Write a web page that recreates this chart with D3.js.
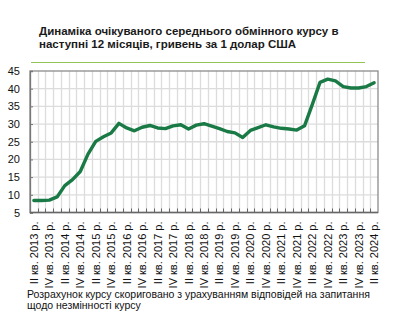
<!DOCTYPE html>
<html>
<head>
<meta charset="utf-8">
<script src="https://cdn.jsdelivr.net/npm/d3@7"></script>
<style>
  html, body { margin: 0; padding: 0; background: #fff; }
  svg { display: block; font-family: "Liberation Sans", Arial, sans-serif; }
</style>
</head>
<body>
<script>
const titleLines = ["Динаміка очікуваного середнього обмінного курсу в", "наступні 12 місяців, гривень за 1 долар США"];
const noteLines = ["Розрахунок курсу скориговано з урахуванням відповідей на запитання", "щодо незмінності курсу"];

const categories = [
  "II кв. 2013 р.", "III кв. 2013 р.", "IV кв. 2013 р.",
  "I кв. 2014 р.", "II кв. 2014 р.", "III кв. 2014 р.", "IV кв. 2014 р.",
  "I кв. 2015 р.", "II кв. 2015 р.", "III кв. 2015 р.", "IV кв. 2015 р.",
  "I кв. 2016 р.", "II кв. 2016 р.", "III кв. 2016 р.", "IV кв. 2016 р.",
  "I кв. 2017 р.", "II кв. 2017 р.", "III кв. 2017 р.", "IV кв. 2017 р.",
  "I кв. 2018 р.", "II кв. 2018 р.", "III кв. 2018 р.", "IV кв. 2018 р.",
  "I кв. 2019 р.", "II кв. 2019 р.", "III кв. 2019 р.", "IV кв. 2019 р.",
  "I кв. 2020 р.", "II кв. 2020 р.", "III кв. 2020 р.", "IV кв. 2020 р.",
  "I кв. 2021 р.", "II кв. 2021 р.", "III кв. 2021 р.", "IV кв. 2021 р.",
  "I кв. 2022 р.", "II кв. 2022 р.", "III кв. 2022 р.", "IV кв. 2022 р.",
  "I кв. 2023 р.", "II кв. 2023 р.", "III кв. 2023 р.", "IV кв. 2023 р.",
  "I кв. 2024 р.", "II кв. 2024 р."
];
const values = [
  8.4, 8.4, 8.5, 9.4, 12.6, 14.3, 16.6, 21.5, 25.1, 26.4, 27.5, 30.2,
  28.9, 28.1, 29.1, 29.6, 28.9, 28.7, 29.5, 29.8, 28.6, 29.7, 30.1,
  29.4, 28.7, 27.9, 27.5, 26.2, 28.2, 29.0, 29.8, 29.2, 28.8, 28.6, 28.3,
  29.5, 35.5, 41.8, 42.7, 42.2, 40.6, 40.2, 40.2, 40.6, 41.7
];
const yTicks = [5, 10, 15, 20, 25, 30, 35, 40, 45];
const xTickLabels = categories.filter((d, i) => i % 2 === 0);

const W = 398, H = 326;
const plot = { left: 30, right: 378, top: 71, bottom: 212.5 };

const svg = d3.select("body").append("svg").attr("width", W).attr("height", H);

// Title
svg.append("g").selectAll("text").data(titleLines).join("text")
  .attr("x", 39).attr("y", (d, i) => 35 + i * 13)
  .attr("font-size", "11.5px").attr("font-weight", "bold").attr("fill", "#1a1a1a")
  .text(d => d);

svg.append("line").attr("x1", 31).attr("x2", 365).attr("y1", 62.5).attr("y2", 62.5)
  .attr("stroke", "#92c456").attr("stroke-width", 1);

const x = d3.scaleBand().domain(categories).range([plot.left, plot.right]).paddingInner(0).paddingOuter(0);
const y = d3.scaleLinear().domain([5, 45]).range([plot.bottom, plot.top]);

// Grid
const grid = svg.append("g");
grid.selectAll("line.v").data(categories.slice(1)).join("line")
  .attr("class", "v")
  .attr("x1", d => Math.round(x(d)) + 0.5).attr("x2", d => Math.round(x(d)) + 0.5)
  .attr("y1", plot.top).attr("y2", plot.bottom)
  .attr("stroke", "#dcdcdc").attr("stroke-width", 1.3);
grid.selectAll("line.h").data(yTicks.slice(1, -1)).join("line")
  .attr("class", "h")
  .attr("x1", plot.left).attr("x2", plot.right)
  .attr("y1", d => y(d)).attr("y2", d => y(d))
  .attr("stroke", "#dcdcdc").attr("stroke-width", 1.3);

// Frame
svg.append("rect").attr("x", plot.left).attr("y", plot.top)
  .attr("width", plot.right - plot.left).attr("height", plot.bottom - plot.top)
  .attr("fill", "none").attr("stroke", "#8c8c8c").attr("stroke-width", 1.3);

// Y axis
const yAxis = svg.append("g").attr("transform", `translate(${plot.left},0)`)
  .call(d3.axisLeft(y).tickValues(yTicks).tickSize(-3).tickPadding(10));
yAxis.select(".domain").attr("stroke", "#777").attr("stroke-width", 1.3);
yAxis.selectAll(".tick line").attr("stroke", "#777");
yAxis.selectAll("text").attr("font-size", "11px").attr("fill", "#111")
  .attr("font-family", "Liberation Sans, Arial, sans-serif");

// X axis ticks at category boundaries (inward)
svg.append("g").selectAll("line").data(categories.slice(1)).join("line")
  .attr("x1", d => Math.round(x(d)) + 0.5).attr("x2", d => Math.round(x(d)) + 0.5)
  .attr("y1", plot.bottom - 4).attr("y2", plot.bottom)
  .attr("stroke", "#666").attr("stroke-width", 1);
svg.append("line").attr("x1", plot.left).attr("x2", plot.right)
  .attr("y1", plot.bottom).attr("y2", plot.bottom)
  .attr("stroke", "#666").attr("stroke-width", 1.5);

// X labels
svg.append("g").selectAll("text").data(xTickLabels).join("text")
  .attr("transform", d => `translate(${x(d) + x.bandwidth() / 2 + 4},${plot.bottom + 9}) rotate(-90)`)
  .attr("text-anchor", "end")
  .attr("font-size", "11px").attr("fill", "#111")
  .text(d => d);

// Line
const line = d3.line()
  .x((d, i) => x(categories[i]) + x.bandwidth() / 2)
  .y(d => y(d));
svg.append("path").datum(values)
  .attr("d", line)
  .attr("fill", "none").attr("stroke", "#1a7a45").attr("stroke-width", 3.4)
  .attr("stroke-linejoin", "round").attr("stroke-linecap", "round");

// Note
svg.append("g").selectAll("text").data(noteLines).join("text")
  .attr("x", 27).attr("y", (d, i) => 298 + i * 11)
  .attr("font-size", "10.5px").attr("fill", "#111")
  .text(d => d);
</script>
</body>
</html>
